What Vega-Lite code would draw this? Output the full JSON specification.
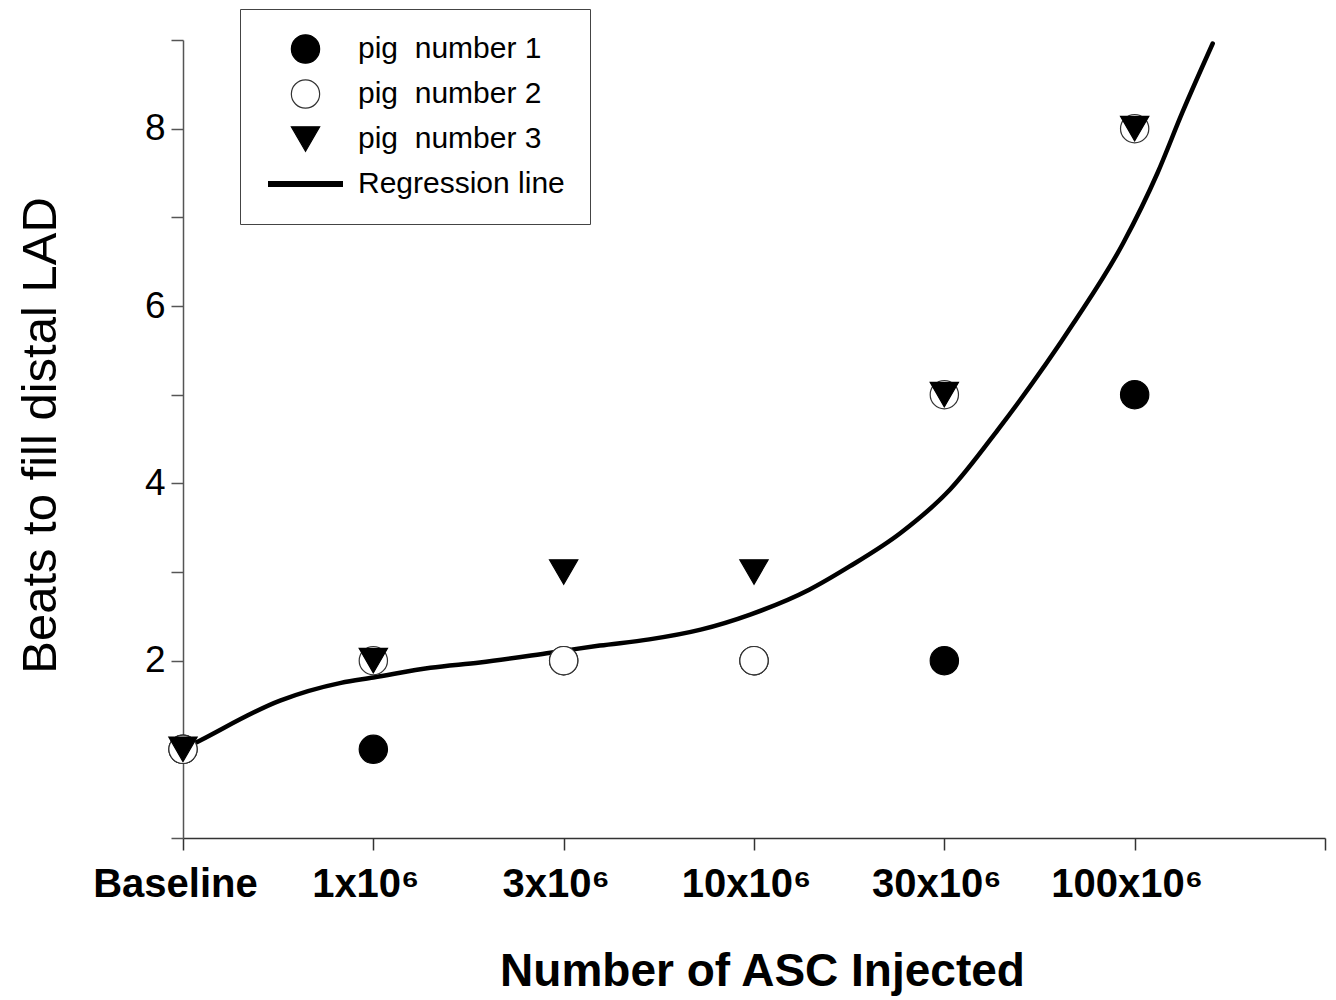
{
  "$schema": "https://vega.github.io/schema/vega-lite/v6.json",
  "width": 1142,
  "height": 798,
  "autosize": {"type": "none"},
  "padding": {"left": 183, "top": 40, "right": 11, "bottom": 162},
  "background": "white",
  "config": {
    "view": {"stroke": null},
    "font": "Liberation Sans",
    "axis": {"grid": false}
  },
  "datasets": {
    "pigs": [
      {"dose_index": 0, "pig": "pig\u00a0 number 1", "beats": 1},
      {"dose_index": 1, "pig": "pig\u00a0 number 1", "beats": 1},
      {"dose_index": 2, "pig": "pig\u00a0 number 1", "beats": 2},
      {"dose_index": 3, "pig": "pig\u00a0 number 1", "beats": 2},
      {"dose_index": 4, "pig": "pig\u00a0 number 1", "beats": 2},
      {"dose_index": 5, "pig": "pig\u00a0 number 1", "beats": 5},
      {"dose_index": 0, "pig": "pig\u00a0 number 2", "beats": 1},
      {"dose_index": 1, "pig": "pig\u00a0 number 2", "beats": 2},
      {"dose_index": 2, "pig": "pig\u00a0 number 2", "beats": 2},
      {"dose_index": 3, "pig": "pig\u00a0 number 2", "beats": 2},
      {"dose_index": 4, "pig": "pig\u00a0 number 2", "beats": 5},
      {"dose_index": 5, "pig": "pig\u00a0 number 2", "beats": 8},
      {"dose_index": 0, "pig": "pig\u00a0 number 3", "beats": 1},
      {"dose_index": 1, "pig": "pig\u00a0 number 3", "beats": 2},
      {"dose_index": 2, "pig": "pig\u00a0 number 3", "beats": 3},
      {"dose_index": 3, "pig": "pig\u00a0 number 3", "beats": 3},
      {"dose_index": 4, "pig": "pig\u00a0 number 3", "beats": 5},
      {"dose_index": 5, "pig": "pig\u00a0 number 3", "beats": 8}
    ],
    "fit": [
      {"dose_index": 0.0, "beats": 1.00},
      {"dose_index": 0.09, "beats": 1.10},
      {"dose_index": 0.51, "beats": 1.55},
      {"dose_index": 0.83, "beats": 1.75},
      {"dose_index": 1.0, "beats": 1.81},
      {"dose_index": 1.3, "beats": 1.92},
      {"dose_index": 1.56, "beats": 1.98},
      {"dose_index": 1.93, "beats": 2.09},
      {"dose_index": 2.19, "beats": 2.17},
      {"dose_index": 2.45, "beats": 2.24},
      {"dose_index": 2.72, "beats": 2.35},
      {"dose_index": 2.98, "beats": 2.52},
      {"dose_index": 3.29, "beats": 2.80},
      {"dose_index": 3.5, "beats": 3.06},
      {"dose_index": 3.77, "beats": 3.44},
      {"dose_index": 4.03, "beats": 3.93},
      {"dose_index": 4.28, "beats": 4.60},
      {"dose_index": 4.68, "beats": 5.81},
      {"dose_index": 4.94, "beats": 6.71},
      {"dose_index": 5.12, "beats": 7.50},
      {"dose_index": 5.25, "beats": 8.18},
      {"dose_index": 5.41, "beats": 8.96}
    ]
  },
  "encoding": {
    "x": {
      "field": "dose_index",
      "type": "quantitative",
      "scale": {"domain": [0, 6], "nice": false, "zero": false},
      "axis": {
        "values": [0, 1, 2, 3, 4, 5, 6],
        "labelExpr": "['Baseline','1x10\u2076','3x10\u2076','10x10\u2076','30x10\u2076','100x10\u2076',''][datum.value]",
        "labelFont": "Liberation Sans",
        "labelFontSize": 40,
        "labelFontWeight": "bold",
        "labelColor": "black",
        "labelPadding": 14,
        "labelOffset": -8,
        "labelFlush": false,
        "labelOverlap": false,
        "tickSize": 12,
        "tickWidth": 1.5,
        "tickColor": "#333",
        "domainColor": "#333",
        "domainWidth": 1.5,
        "title": "Number of ASC Injected",
        "titleFont": "Liberation Sans",
        "titleFontSize": 46,
        "titleFontWeight": "bold",
        "titleColor": "black",
        "titleX": 579,
        "titleY": 147,
        "titleBaseline": "alphabetic",
        "titleAlign": "center"
      }
    },
    "y": {
      "field": "beats",
      "type": "quantitative",
      "scale": {"domain": [0, 9], "nice": false},
      "axis": {
        "values": [0, 1, 2, 3, 4, 5, 6, 7, 8, 9],
        "labelExpr": "datum.value % 2 === 0 && datum.value > 0 ? datum.label : ''",
        "labelFont": "Liberation Sans",
        "labelFontSize": 37,
        "labelColor": "black",
        "labelPadding": 6,
        "tickSize": 12,
        "tickWidth": 1.5,
        "tickColor": "#555",
        "domainColor": "#555",
        "domainWidth": 1.5,
        "title": "Beats to fill distal LAD",
        "titleFont": "Liberation Sans",
        "titleFontSize": 49,
        "titleFontWeight": "normal",
        "titleColor": "black",
        "titleAngle": -90,
        "titleX": -128,
        "titleY": 395,
        "titleBaseline": "alphabetic",
        "titleAlign": "center"
      }
    }
  },
  "layer": [
    {
      "data": {"name": "fit"},
      "mark": {"type": "line", "color": "black", "strokeWidth": 4.5, "interpolate": "monotone", "strokeCap": "round"}
    },
    {
      "data": {"name": "pigs"},
      "mark": {"type": "point", "opacity": 1},
      "encoding": {
        "shape": {
          "field": "pig",
          "type": "nominal",
          "scale": {
            "domain": ["pig\u00a0 number 1", "pig\u00a0 number 2", "pig\u00a0 number 3", "Regression line"],
            "range": ["circle", "circle", "triangle-down", "stroke"]
          },
          "legend": {
            "title": null,
            "orient": "none",
            "legendX": 57,
            "legendY": -31,
            "padding": 25,
            "strokeColor": "#444",
            "fillColor": "white",
            "labelFont": "Liberation Sans",
            "labelFontSize": 30,
            "labelColor": "black",
            "labelOffset": 12,
            "labelLimit": 400,
            "rowPadding": 15,
            "clipHeight": 30,
            "symbolOpacity": 1,
            "encode": {
              "legend": {
                "strokeWidth": {"value": 1.5}
              },
              "symbols": {
                "strokeCap": {"value": "round"}
              }
            }
          }
        },
        "size": {
          "field": "pig",
          "type": "nominal",
          "scale": {
            "type": "ordinal",
            "domain": ["pig\u00a0 number 1", "pig\u00a0 number 2", "pig\u00a0 number 3", "Regression line"],
            "range": [800, 800, 800, 5625]
          }
        },
        "strokeWidth": {
          "field": "pig",
          "type": "nominal",
          "scale": {
            "type": "ordinal",
            "domain": ["pig\u00a0 number 1", "pig\u00a0 number 2", "pig\u00a0 number 3", "Regression line"],
            "range": [1.2, 1.2, 1.2, 6]
          }
        },
        "fill": {
          "field": "pig",
          "type": "nominal",
          "scale": {
            "domain": ["pig\u00a0 number 1", "pig\u00a0 number 2", "pig\u00a0 number 3", "Regression line"],
            "range": ["black", "white", "black", "black"]
          }
        },
        "stroke": {
          "field": "pig",
          "type": "nominal",
          "scale": {
            "domain": ["pig\u00a0 number 1", "pig\u00a0 number 2", "pig\u00a0 number 3", "Regression line"],
            "range": ["black", "#333", "black", "black"]
          }
        }
      }
    }
  ]
}
